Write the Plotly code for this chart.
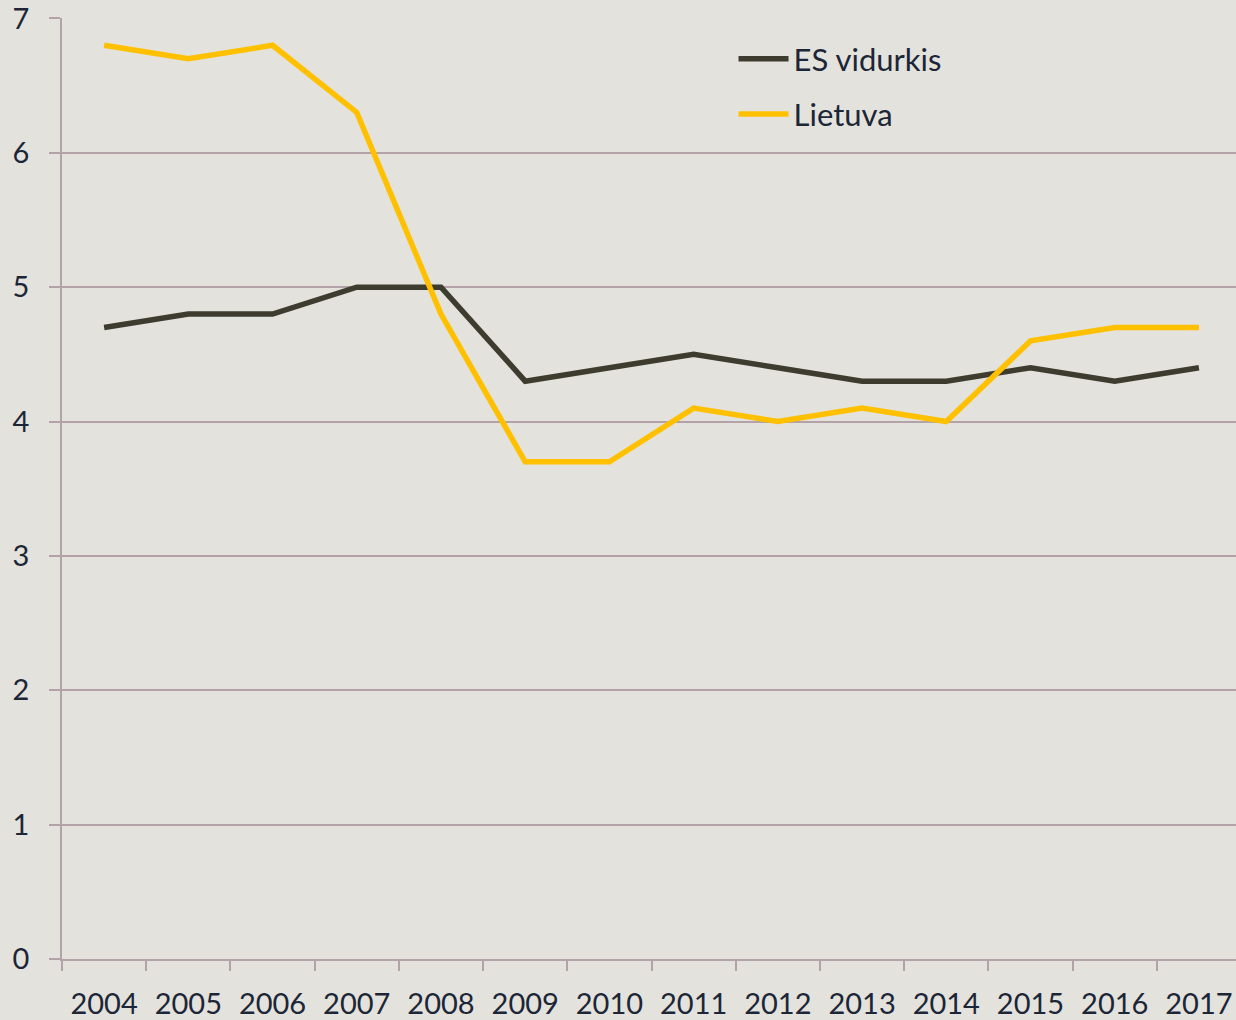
import plotly.graph_objects as go

years = ["2004", "2005", "2006", "2007", "2008", "2009", "2010", "2011", "2012", "2013", "2014", "2015", "2016", "2017"]
es_vidurkis = [4.7, 4.8, 4.8, 5.0, 5.0, 4.3, 4.4, 4.5, 4.4, 4.3, 4.3, 4.4, 4.3, 4.4]
lietuva = [6.8, 6.7, 6.8, 6.3, 4.8, 3.7, 3.7, 4.1, 4.0, 4.1, 4.0, 4.6, 4.7, 4.7]
y_ticks = [0, 1, 2, 3, 4, 5, 6, 7]

BG = "#E3E2DD"
GRID = "#B3A2A8"
TEXT = "#1C2636"
FONT = "Lato"

fig = go.Figure()
fig.add_trace(go.Scatter(x=years, y=es_vidurkis, mode="lines", name="ES vidurkis",
                         line=dict(color="#3E3C2E", width=5.5), legendgroup="a"))
fig.add_trace(go.Scatter(x=years, y=lietuva, mode="lines", name="Lietuva",
                         line=dict(color="#FFC000", width=5.5), legendgroup="b"))

fig.update_layout(
    width=1236, height=1020,
    paper_bgcolor=BG, plot_bgcolor=BG,
    margin=dict(l=62, r=0, t=18, b=59),
    font=dict(family=FONT, size=29, color=TEXT),
    showlegend=True,
    legend=dict(x=0.572, y=0.985, xanchor="left", yanchor="top",
                bgcolor="rgba(0,0,0,0)", font=dict(size=31, color=TEXT),
                tracegroupgap=12, itemwidth=50),
    xaxis=dict(
        type="category", range=[-0.5, 13.44],
        showgrid=False, showline=True, linecolor=GRID, linewidth=1.5,
        ticks="outside", tickson="boundaries", ticklen=10, tickcolor=GRID, tickwidth=1.5,
        tickfont=dict(size=29, color=TEXT), ticklabelstandoff=18,
    ),
    yaxis=dict(
        range=[0, 7.003], tickvals=y_ticks, showgrid=True, gridcolor=GRID, gridwidth=1.5,
        showline=True, linecolor=GRID, linewidth=1.5, zeroline=False,
        ticks="outside", ticklen=11, tickcolor=GRID, tickwidth=1.5,
        tickfont=dict(size=29, color=TEXT), ticklabelstandoff=14,
        ticklabeloverflow="allow",
    ),
)

fig.write_html("out.html", config={"displayModeBar": False},
               post_script="document.body.style.margin='0';document.body.style.background='%s';" % BG)
